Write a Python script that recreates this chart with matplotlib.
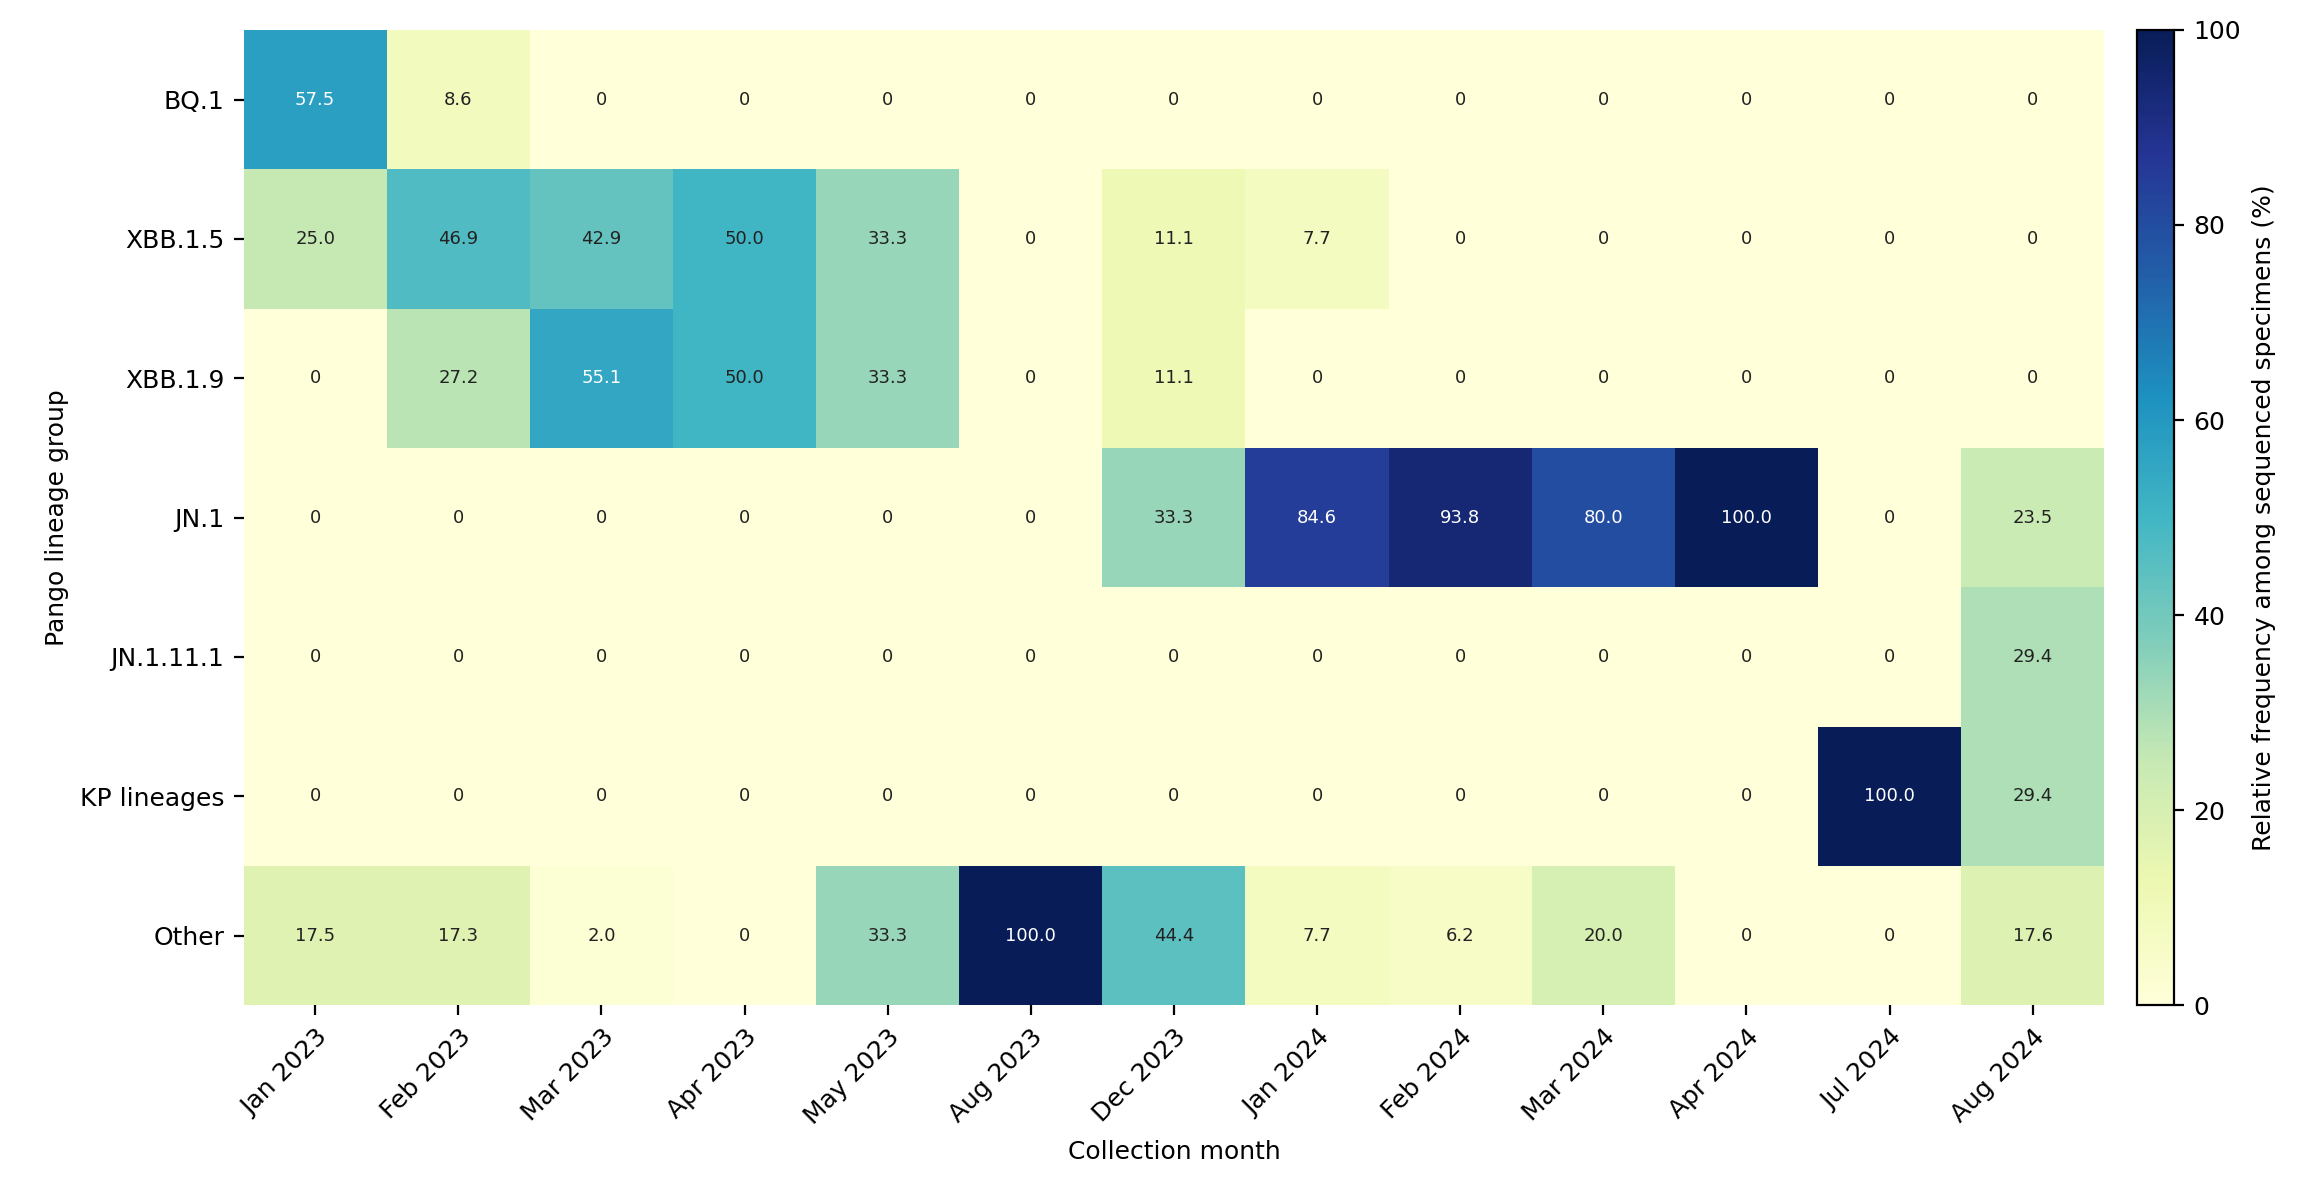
import numpy as np
import matplotlib
matplotlib.use("Agg")
import matplotlib.pyplot as plt

MONTHS = ["Jan 2023", "Feb 2023", "Mar 2023", "Apr 2023", "May 2023", "Aug 2023", "Dec 2023",
          "Jan 2024", "Feb 2024", "Mar 2024", "Apr 2024", "Jul 2024", "Aug 2024"]
LINEAGES = ["BQ.1", "XBB.1.5", "XBB.1.9", "JN.1", "JN.1.11.1", "KP lineages", "Other"]
BQ1 = [57.5, 8.6, 0, 0, 0, 0, 0, 0, 0, 0, 0, 0, 0]
XBB15 = [25.0, 46.9, 42.9, 50.0, 33.3, 0, 11.1, 7.7, 0, 0, 0, 0, 0]
XBB19 = [0, 27.2, 55.1, 50.0, 33.3, 0, 11.1, 0, 0, 0, 0, 0, 0]
JN1 = [0, 0, 0, 0, 0, 0, 33.3, 84.6, 93.8, 80.0, 100.0, 0, 23.5]
JN1111 = [0, 0, 0, 0, 0, 0, 0, 0, 0, 0, 0, 0, 29.4]
KP = [0, 0, 0, 0, 0, 0, 0, 0, 0, 0, 0, 100.0, 29.4]
OTHER = [17.5, 17.3, 2.0, 0, 33.3, 100.0, 44.4, 7.7, 6.2, 20.0, 0, 0, 17.6]

data = np.array([BQ1, XBB15, XBB19, JN1, JN1111, KP, OTHER])

fig = plt.figure(figsize=(11.6, 5.97), dpi=200)
ax = fig.add_axes([0.105, 0.158, 0.802, 0.817])
cax = fig.add_axes([0.921, 0.158, 0.016, 0.817])
mesh = ax.pcolormesh(data, cmap="YlGnBu", vmin=0, vmax=100)
ax.set_xlim(0, len(MONTHS)); ax.set_ylim(len(LINEAGES), 0)
for s in ax.spines.values():
    s.set_visible(False)
for i in range(data.shape[0]):
    for j in range(data.shape[1]):
        v = data[i, j]
        txt = "0" if v == 0 else f"{v:.1f}"
        ax.text(j + 0.5, i + 0.5, txt, ha="center", va="center", fontsize=6.5,
                color="white" if v > 52 else "#222222")
ax.set_xticks(np.arange(len(MONTHS)) + 0.5)
ax.set_xticklabels(MONTHS, rotation=45, ha="right", rotation_mode="anchor", fontsize=9)
ax.set_yticks(np.arange(len(LINEAGES)) + 0.5)
ax.set_yticklabels(LINEAGES, fontsize=9)
ax.set_xlabel("Collection month", fontsize=9)
ax.set_ylabel("Pango lineage group", fontsize=9)
cb = fig.colorbar(mesh, cax=cax)
cb.set_label("Relative frequency among sequenced specimens (%)", fontsize=9)
cb.ax.tick_params(labelsize=9)
fig.savefig("out.png", dpi=200)
